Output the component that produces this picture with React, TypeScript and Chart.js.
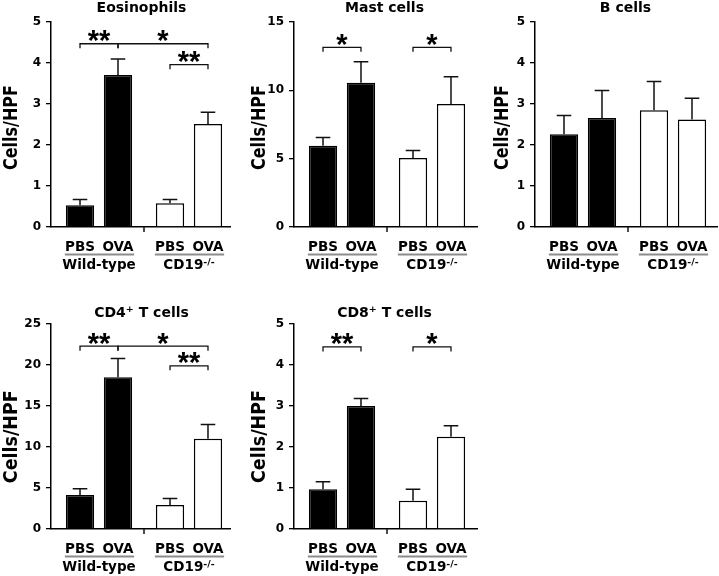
import React, { useEffect, useRef } from 'react';
import { Chart, registerables } from 'chart.js';

Chart.register(...registerables);

// ---------------- data ----------------
const groupLabels = ['Wild-type', 'CD19|-/-|'];
const treatmentLabels = ['PBS', 'OVA'];
const panelTitles = ['Eosinophils', 'Mast cells', 'B cells', 'CD4|+| T cells', 'CD8|+| T cells'];
const yAxisLabel = 'Cells/HPF';

// bar order: Wild-type PBS, Wild-type OVA, CD19-/- PBS, CD19-/- OVA
const eosMean = [0.53, 3.71, 0.58, 2.51];
const eosSem = [0.14, 0.39, 0.09, 0.29];
const mastMean = [5.95, 10.55, 5.05, 9.0];
const mastSem = [0.6, 1.55, 0.55, 2.0];
const bMean = [2.26, 2.66, 2.85, 2.62];
const bSem = [0.46, 0.67, 0.7, 0.52];
const cd4Mean = [4.15, 18.5, 2.93, 11.0];
const cd4Sem = [0.75, 2.3, 0.8, 1.75];
const cd8Mean = [0.97, 3.0, 0.69, 2.25];
const cd8Sem = [0.18, 0.18, 0.28, 0.27];

const yMax = [5, 15, 5, 25, 5];
const yStep = [1, 5, 1, 5, 1];

// significance brackets: [from bar, to bar, level (value units), mark]
const eosSig: [number, number, number, string][] = [[0, 1, 4.47, '**'], [1, 3, 4.47, '*'], [2, 3, 3.96, '**']];
const mastSig: [number, number, number, string][] = [[0, 1, 13.15, '*'], [2, 3, 13.15, '*']];
const bSig: [number, number, number, string][] = [];
const cd4Sig: [number, number, number, string][] = [[0, 1, 22.3, '**'], [1, 3, 22.3, '*'], [2, 3, 19.9, '**']];
const cd8Sig: [number, number, number, string][] = [[0, 1, 4.44, '**'], [2, 3, 4.44, '*']];

const means = [eosMean, mastMean, bMean, cd4Mean, cd8Mean];
const sems = [eosSem, mastSem, bSem, cd4Sem, cd8Sem];
const sigs = [eosSig, mastSig, bSig, cd4Sig, cd8Sig];

// ---------------- layout / style ----------------
const W = 719;
const H = 576;
const INK = '#111';
const FAMILY = '"DejaVu Sans", "Liberation Sans", Arial, sans-serif';
const STAR_FAMILY = '"Liberation Sans", Arial, sans-serif';
const GROUP_GAP = 90; // px between group centres
const FIRST_GROUP = 48; // px from y axis to first group centre
const Y_AXIS_W = 30;

type Layout = {
  left: number; right: number; top: number; bottom: number;
  titleY: number; yTitleDx: number; yTitleCy: number; yTitleSize: number; yTitleStretch: number;
};

const layouts: Layout[] = [
  { left: 51, right: 230, top: 22, bottom: 227, titleY: 11.5, yTitleDx: 41, yTitleCy: 127.5, yTitleSize: 16, yTitleStretch: 1.2 },
  { left: 294, right: 477, top: 22, bottom: 227, titleY: 11.5, yTitleDx: 36.3, yTitleCy: 127.5, yTitleSize: 16, yTitleStretch: 1.2 },
  { left: 535, right: 717, top: 22, bottom: 227, titleY: 11.5, yTitleDx: 33.7, yTitleCy: 127.5, yTitleSize: 16, yTitleStretch: 1.2 },
  { left: 51, right: 230, top: 324, bottom: 529, titleY: 316.7, yTitleDx: 41, yTitleCy: 436.7, yTitleSize: 17.5, yTitleStretch: 1.12 },
  { left: 294, right: 477, top: 324, bottom: 529, titleY: 316.7, yTitleDx: 36.3, yTitleCy: 436.5, yTitleSize: 17.5, yTitleStretch: 1.12 },
];

function drawRich(ctx: CanvasRenderingContext2D, src: string, cx: number, baseline: number, size: number, supSize: number, rise: number) {
  const parts = src.split('|');
  const fonts = parts.map((_, i) => `bold ${i % 2 ? supSize : size}px ${FAMILY}`);
  let total = 0;
  const widths = parts.map((p, i) => {
    ctx.font = fonts[i];
    const w = ctx.measureText(p).width;
    total += w;
    return w;
  });
  let x = cx - total / 2;
  ctx.textAlign = 'left';
  ctx.textBaseline = 'alphabetic';
  parts.forEach((p, i) => {
    ctx.font = fonts[i];
    ctx.fillText(p, x, baseline - (i % 2 ? rise : 0));
    x += widths[i];
  });
}

function Panel({ index }: { index: number }) {
  const ref = useRef<HTMLCanvasElement>(null);

  useEffect(() => {
    const canvas = ref.current;
    if (!canvas) return;
    const L = layouts[index];
    const mean = means[index];
    const sem = sems[index];
    const sig = sigs[index];
    const xMin = -FIRST_GROUP / GROUP_GAP;
    const xMax = xMin + (L.right - L.left) / GROUP_GAP;

    const annot = {
      id: 'annot' + index,
      afterDatasetsDraw(chart: any) {
        const ctx: CanvasRenderingContext2D = chart.ctx;
        const ys = chart.scales.y;
        const xs = chart.scales.x;
        const area = chart.chartArea;
        const bar = (i: number) => chart.getDatasetMeta(i % 2).data[Math.floor(i / 2)] as any;
        ctx.save();
        ctx.strokeStyle = INK;
        ctx.fillStyle = '#000';

        // error bars (upper only)
        ctx.lineWidth = 1.5;
        for (let i = 0; i < mean.length; i++) {
          const b = bar(i);
          const top = ys.getPixelForValue(mean[i] + sem[i]);
          ctx.beginPath();
          ctx.moveTo(b.x, b.y);
          ctx.lineTo(b.x, top);
          ctx.moveTo(b.x - 7.3, top);
          ctx.lineTo(b.x + 7.3, top);
          ctx.stroke();
        }

        // significance brackets
        ctx.lineWidth = 1.3;
        for (const [a, c, v, mark] of sig) {
          const y = ys.getPixelForValue(v);
          const xa = bar(a).x;
          const xc = bar(c).x;
          ctx.beginPath();
          ctx.moveTo(xa, y + 4.5);
          ctx.lineTo(xa, y);
          ctx.lineTo(xc, y);
          ctx.lineTo(xc, y + 4.5);
          ctx.stroke();
          ctx.font = `bold 29px ${STAR_FAMILY}`;
          ctx.textAlign = 'center';
          ctx.textBaseline = 'alphabetic';
          ctx.fillText(mark, (xa + xc) / 2, y - 10 + 16.5);
        }

        // middle tick on x axis
        const mx = xs.getPixelForValue(0.5);
        ctx.lineWidth = 1.5;
        ctx.beginPath();
        ctx.moveTo(mx, area.bottom);
        ctx.lineTo(mx, area.bottom + 5);
        ctx.stroke();

        // group labels
        for (let g = 0; g < groupLabels.length; g++) {
          const p = bar(g * 2);
          const o = bar(g * 2 + 1);
          ctx.fillStyle = '#000';
          drawRich(ctx, treatmentLabels[0], p.x, area.bottom + 24.2, 13.5, 9, 4);
          drawRich(ctx, treatmentLabels[1], o.x, area.bottom + 24.2, 13.5, 9, 4);
          ctx.strokeStyle = '#8c8c8c';
          ctx.lineWidth = 2;
          ctx.beginPath();
          ctx.moveTo(p.x - p.width / 2 - 1, area.bottom + 27.5);
          ctx.lineTo(o.x + o.width / 2 + 2, area.bottom + 27.5);
          ctx.stroke();
          drawRich(ctx, groupLabels[g], (p.x + o.x) / 2, area.bottom + 42, 13.5, 9.5, 4.5);
        }

        // panel title
        ctx.fillStyle = '#000';
        drawRich(ctx, panelTitles[index], area.left + 90.5, L.titleY, 14, 9.5, 5);

        // y-axis title
        ctx.save();
        ctx.translate(area.left - L.yTitleDx, L.yTitleCy);
        ctx.rotate(-Math.PI / 2);
        ctx.scale(1, L.yTitleStretch);
        ctx.font = `bold ${L.yTitleSize}px ${FAMILY}`;
        ctx.textAlign = 'center';
        ctx.textBaseline = 'alphabetic';
        ctx.fillText(yAxisLabel, 0, L.yTitleSize * 0.37);
        ctx.restore();

        ctx.restore();
      },
    };

    const fills = ['#000', '#fff'];
    const chart = new Chart(canvas, {
      type: 'bar',
      data: {
        datasets: treatmentLabels.map((t, ti) => ({
          label: t,
          data: groupLabels.map((_, gi) => ({ x: gi, y: mean[gi * 2 + ti] })),
          backgroundColor: fills,
          borderColor: '#000',
          borderWidth: 1.5,
          categoryPercentage: 0.844,
          barPercentage: 0.745,
        })),
      },
      options: {
        responsive: false,
        animation: false,
        events: [],
        layout: {
          padding: { left: L.left - Y_AXIS_W, right: W - L.right, top: L.top, bottom: H - L.bottom },
        },
        plugins: { legend: { display: false }, tooltip: { enabled: false }, title: { display: false } },
        scales: {
          x: {
            type: 'linear',
            min: xMin,
            max: xMax,
            bounds: 'data',
            offset: false,
            ticks: { display: false, stepSize: 1, includeBounds: false },
            afterBuildTicks: (s: any) => {
              s.ticks = groupLabels.map((_, gi) => ({ value: gi }));
            },
            grid: { display: true, drawOnChartArea: false, drawTicks: false, offset: false },
            border: { display: true, color: '#000', width: 1.5 },
            afterFit: (s: any) => { s.height = 0; },
          },
          y: {
            min: 0,
            max: yMax[index],
            ticks: {
              stepSize: yStep[index],
              color: '#000',
              padding: 5,
              font: { family: FAMILY, size: 12, weight: 'bold' },
            },
            grid: { drawOnChartArea: false, drawTicks: true, tickLength: 5, color: '#000', lineWidth: 1.3 },
            border: { display: true, color: '#000', width: 1.5 },
            afterFit: (s: any) => { s.width = Y_AXIS_W; },
          },
        },
      } as any,
      plugins: [annot],
    });
    return () => chart.destroy();
  }, [index]);

  return <canvas ref={ref} width={W} height={H} style={{ position: 'absolute', left: 0, top: 0, width: W, height: H }} />;
}

export default function App() {
  return (
    <div style={{ position: 'fixed', left: 0, top: 0, width: W, height: H, background: '#fff', overflow: 'hidden' }}>
      {panelTitles.map((_, i) => (
        <Panel key={i} index={i} />
      ))}
    </div>
  );
}
